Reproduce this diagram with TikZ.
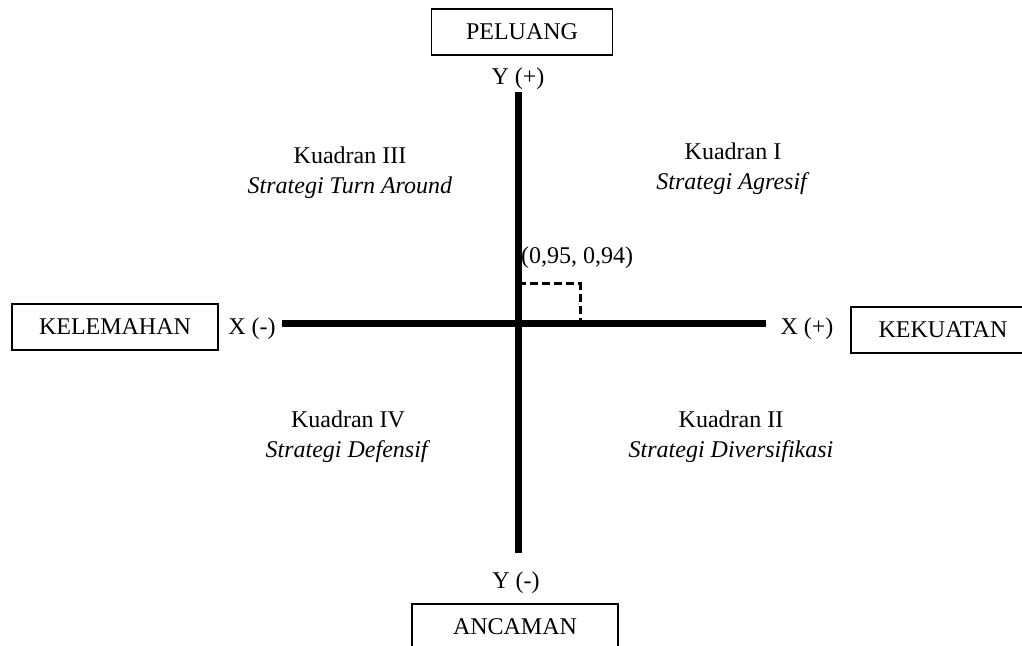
\documentclass[tikz,border=0pt]{standalone}
\usepackage{fontspec}
\setmainfont{Liberation Serif}
\begin{document}
\begin{tikzpicture}[x=0.5pt,y=-0.5pt]

\tikzset{%
    label/.style={font=\fontsize{12}{14.8}\selectfont,inner sep=0pt,align=center},
    field/.style={draw,line width=0.75pt,font=\fontsize{12}{14.8}\selectfont,minimum height=23pt,inner sep=0pt},
    axis/.style={line width=3.5pt},
    guide/.style={line width=1.5pt,dash pattern=on 4pt off 2pt},
}

\def\ox{518}
\def\oy{324}
\def\px{580}
\def\py{284}

\useasboundingbox (0,0) rectangle (1022,646);
\clip (0,0) rectangle (1022,646);

% boxes
\node [field, minimum width=90.5pt] (peluang) at (522,32) {PELUANG};
\node [field, minimum width=103pt] (kelemahan) at (115,327) {KELEMAHAN};
\node [field, minimum width=92pt] (kekuatan) at (943,330) {KEKUATAN};
\node [field, minimum width=103pt] (ancaman) at (515,627) {ANCAMAN};

% axis labels
\node [label] (yplus) at (\ox,79) {Y (+)};
\node [label] (ymin) at (516,583) {Y (-)};
\node [label] (xmin) at (252,329) {X (-)};
\node [label] (xplus) at (807,329) {X (+)};

% axes
\coordinate (ytop) at (\ox,92);
\coordinate (ybot) at (\ox,553);
\coordinate (xleft) at (282,\oy);
\coordinate (xright) at (766,\oy);
\draw [axis] (ytop) -- (ybot);
\draw [axis] (xleft) -- (xright);

% point
\coordinate (pt) at (\px,\py);
\coordinate (pty) at (\ox,\py);
\coordinate (ptx) at (\px,\oy);
\draw [guide] (pty) -- (pt) -- (ptx);
\node [label] (titik) at (577,258) {(0,95, 0,94)};

% quadrants
\node [label] (q1) at (733,169) {Kuadran I\\\textit{Strategi Agresif}};
\node [label] (q3) at (350,173) {Kuadran III\\\textit{Strategi Turn Around}};
\node [label] (q4) at (348,437) {Kuadran IV\\\textit{Strategi Defensif}};
\node [label] (q2) at (731,437) {Kuadran II\\\textit{Strategi Diversifikasi}};

\end{tikzpicture}
\end{document}
